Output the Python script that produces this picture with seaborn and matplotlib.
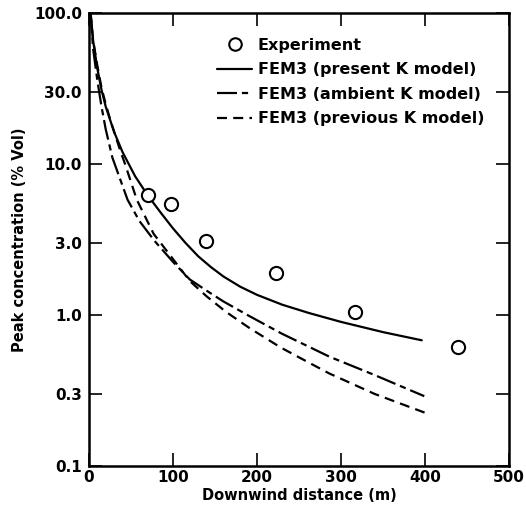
import numpy as np
import pandas as pd
import matplotlib
matplotlib.use("Agg")
import matplotlib.pyplot as plt
from matplotlib.lines import Line2D
import seaborn as sns

# ---- data ----
exp_x = [70, 98, 139, 223, 317, 439]
exp_y = [6.2, 5.4, 3.1, 1.9, 1.05, 0.61]

present_x = [2, 5, 10, 15, 20, 30, 40, 55, 70, 85, 100, 115, 130, 145, 160, 180, 200, 230, 262, 300, 350, 396]
present_y = [100, 66, 43, 31, 24, 16.3, 12, 8.3, 6.2, 4.8, 3.75, 3.0, 2.45, 2.08, 1.80, 1.54, 1.36, 1.17, 1.03, 0.90, 0.77, 0.68]

ambient_x = [2, 5, 10, 15, 20, 28, 46, 60, 78, 100, 120, 140, 160, 190, 230, 286, 340, 399]
ambient_y = [100, 58, 36, 24, 17, 11, 5.8, 4.2, 3.1, 2.25, 1.72, 1.45, 1.23, 0.99, 0.75, 0.53, 0.40, 0.29]

previous_x = [2, 5, 10, 15, 20, 25, 37, 43, 57, 77, 100, 120, 140, 163, 191, 228, 254, 286, 340, 401]
previous_y = [100, 66, 45, 32, 25, 20, 12.4, 10, 5.8, 3.45, 2.35, 1.68, 1.33, 1.05, 0.82, 0.61, 0.51, 0.41, 0.30, 0.224]

labels = ["Experiment", "FEM3 (present K model)", "FEM3 (ambient K model)", "FEM3 (previous K model)"]
xticks = [0, 100, 200, 300, 400, 500]
yticks = [0.1, 0.3, 1.0, 3.0, 10.0, 30.0, 100.0]
yticklabels = ["0.1", "0.3", "1.0", "3.0", "10.0", "30.0", "100.0"]

sns.set_theme(style="ticks")
plt.rcParams["font.family"] = ["DejaVu Sans"]
plt.rcParams["font.weight"] = "bold"
plt.rcParams["text.color"] = "black"
plt.rcParams["axes.labelcolor"] = "black"

df = pd.concat([
    pd.DataFrame({"x": present_x, "y": present_y, "model": "present"}),
    pd.DataFrame({"x": ambient_x, "y": ambient_y, "model": "ambient"}),
    pd.DataFrame({"x": previous_x, "y": previous_y, "model": "previous"}),
])
dash_map = {"present": "", "ambient": (9, 2.2, 2.8, 2.2), "previous": (4.5, 2.8)}

fig = plt.figure(figsize=(5.26, 5.21), dpi=100)
ax = fig.add_axes([0.169, 0.1056, 0.799, 0.8694])

sns.lineplot(data=df, x="x", y="y", style="model", dashes=dash_map, color="black",
             linewidth=1.6, ax=ax, legend=False, sort=False, estimator=None)
sns.scatterplot(x=exp_x, y=exp_y, ax=ax, marker="o", s=90, facecolor="white",
                edgecolor="black", linewidth=1.5, zorder=5, legend=False)

ax.set_yscale("log")
ax.set_xlim(0, 500)
ax.set_ylim(0.1, 100)
ax.set_xticks(xticks)
ax.set_xticklabels([str(v) for v in xticks])
ax.set_yticks(yticks)
ax.set_yticklabels(yticklabels)
ax.yaxis.set_minor_locator(matplotlib.ticker.NullLocator())
ax.tick_params(axis="both", which="major", direction="in", length=9.5, width=1.2,
               labelsize=11, top=True, right=True, color="black", labelcolor="black")
ax.tick_params(axis="x", pad=3)
ax.tick_params(axis="y", pad=5)
for lab in ax.get_xticklabels() + ax.get_yticklabels():
    lab.set_fontweight("bold")
for sp in ax.spines.values():
    sp.set_linewidth(1.8)
    sp.set_color("black")

ax.set_xlabel("Downwind distance (m)", fontsize=10.5, fontweight="bold", labelpad=2, color="black")
ax.set_ylabel("Peak concentration (% Vol)", fontsize=10.5, fontweight="bold", labelpad=5, color="black")

handles = [
    Line2D([], [], linestyle="none", marker="o", markersize=9, markerfacecolor="white",
           markeredgecolor="black", markeredgewidth=1.5),
    Line2D([], [], color="black", linewidth=1.6),
    Line2D([], [], color="black", linewidth=1.6, dashes=(9, 2.2, 2.8, 2.2)),
    Line2D([], [], color="black", linewidth=1.6, dashes=(4.5, 2.8)),
]
leg = ax.legend(handles, labels, loc="upper left", bbox_to_anchor=(0.29, 0.96),
                frameon=False, fontsize=11.5, handlelength=2.2, handletextpad=0.35,
                labelspacing=0.6, borderaxespad=0)
for t in leg.get_texts():
    t.set_fontweight("bold")
    t.set_color("black")

fig.savefig("out.png", dpi=100)
